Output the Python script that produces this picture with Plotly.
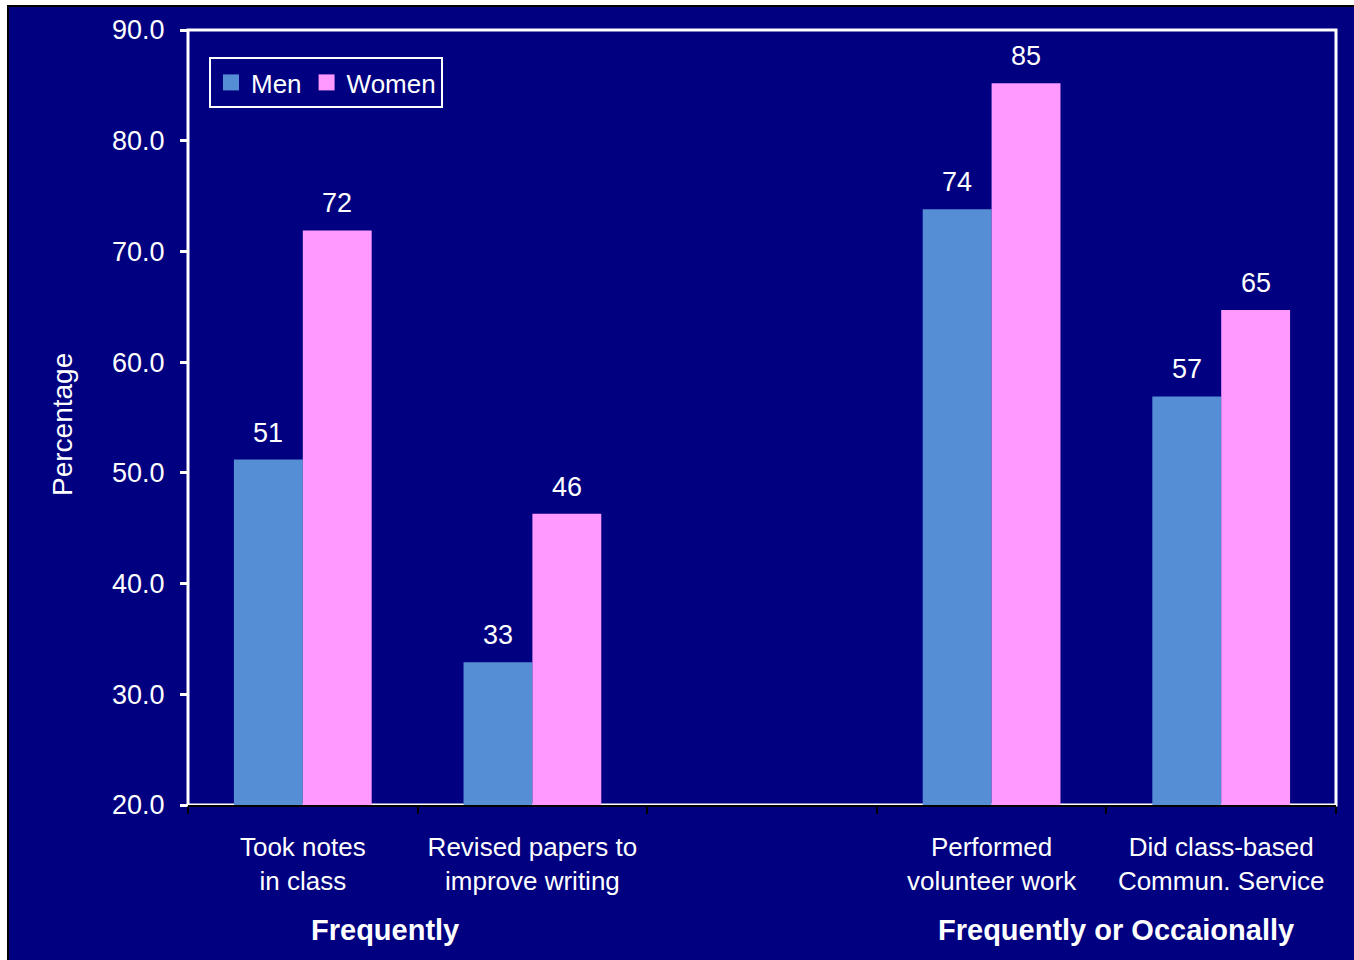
import plotly.graph_objects as go

categories = ["Took notes<br>in class", "Revised papers to<br>improve writing", " ",
              "Performed<br>volunteer work", "Did class-based<br>Commun. Service"]
men = [51.2, 32.9, None, 73.8, 56.9]
women = [71.9, 46.3, None, 85.2, 64.7]
y_ticks = [20, 30, 40, 50, 60, 70, 80, 90]
group_labels = ["Frequently", "Frequently or Occaionally"]

NAVY = "#000080"
MEN_C = "#558ED5"
WOMEN_C = "#FF99FF"
FONT = "Liberation Sans, Arial, sans-serif"

W, H = 1354, 960
L, R, T, B = 188, 18, 30, 155
PW, PH = W - L - R, H - T - B
BARGAP = 0.4
HALF_BAR = PW / len(categories) * (1 - BARGAP) / 4


def px_x(p):
    return (p - L) / PW


def px_y(p):
    return (H - B - p) / PH


fig = go.Figure()
fig.add_trace(go.Bar(x=categories, y=men, name="Men", marker_color=MEN_C,
                     marker_line_width=0, showlegend=False))
fig.add_trace(go.Bar(x=categories, y=women, name="Women", marker_color=WOMEN_C,
                     marker_line_width=0, showlegend=False))
# legend proxies (square swatches)
for nm, col in [("Men", MEN_C), ("Women", WOMEN_C)]:
    fig.add_trace(go.Scatter(x=[None], y=[None], mode="markers", name=nm,
                             marker=dict(symbol="square", size=16, color=col,
                                         line=dict(width=0))))

annotations = []
for vals, shift in [(men, -HALF_BAR), (women, HALF_BAR)]:
    for c, v in zip(categories, vals):
        if v is None:
            continue
        annotations.append(dict(x=c, y=v, text="%.0f" % v, showarrow=False,
                                xanchor="center", yanchor="bottom", xshift=shift,
                                yshift=10, font=dict(size=27, color="white", family=FONT)))

annotations += [
    dict(text="Percentage", xref="paper", yref="paper", x=px_x(62), y=px_y(425),
         textangle=-90, showarrow=False, font=dict(size=28, color="white", family=FONT),
         xanchor="center", yanchor="middle"),
    dict(text="<b>%s</b>" % group_labels[0], xref="paper", yref="paper",
         x=px_x(385), y=px_y(930), showarrow=False, xanchor="center", yanchor="middle",
         font=dict(size=29, color="white", family=FONT)),
    dict(text="<b>%s</b>" % group_labels[1], xref="paper", yref="paper",
         x=px_x(1116), y=px_y(930), showarrow=False, xanchor="center", yanchor="middle",
         font=dict(size=29, color="white", family=FONT)),
]

fig.update_layout(
    width=W, height=H,
    margin=dict(l=L, r=R, t=T, b=B, pad=0),
    paper_bgcolor="white",
    plot_bgcolor=NAVY,
    barmode="group",
    bargap=BARGAP,
    bargroupgap=0,
    font=dict(family=FONT, color="white", size=26),
    showlegend=True,
    legend=dict(orientation="h", x=px_x(209), y=px_y(57), xanchor="left", yanchor="top",
                bgcolor=NAVY, bordercolor="white", borderwidth=2,
                font=dict(size=26, color="white", family=FONT),
                itemwidth=30, tracegroupgap=0),
    xaxis=dict(type="category", showgrid=False, showline=True, linecolor="black",
               linewidth=2, ticks="outside", tickson="boundaries", tickcolor="black",
               ticklen=7, tickwidth=2, ticklabelstandoff=18,
               tickfont=dict(size=26, color="white", family=FONT),
               zeroline=False),
    yaxis=dict(range=[20, 90], tickvals=y_ticks, tickformat=".1f", showgrid=False,
               showline=False, ticks="outside", tickcolor="white", ticklen=7,
               tickwidth=3, ticklabelstandoff=10,
               tickfont=dict(size=27, color="white", family=FONT),
               zeroline=False),
    shapes=[
        dict(type="rect", xref="paper", yref="paper", x0=px_x(8), x1=px_x(1400),
             y0=px_y(1000), y1=px_y(6), fillcolor=NAVY,
             line=dict(color="black", width=2), layer="below"),
        dict(type="rect", xref="paper", yref="paper", x0=0, x1=1, y0=0, y1=1,
             fillcolor="rgba(0,0,0,0)", line=dict(color="white", width=3), layer="below"),
    ],
    annotations=annotations,
)

fig.write_html("out.html")
